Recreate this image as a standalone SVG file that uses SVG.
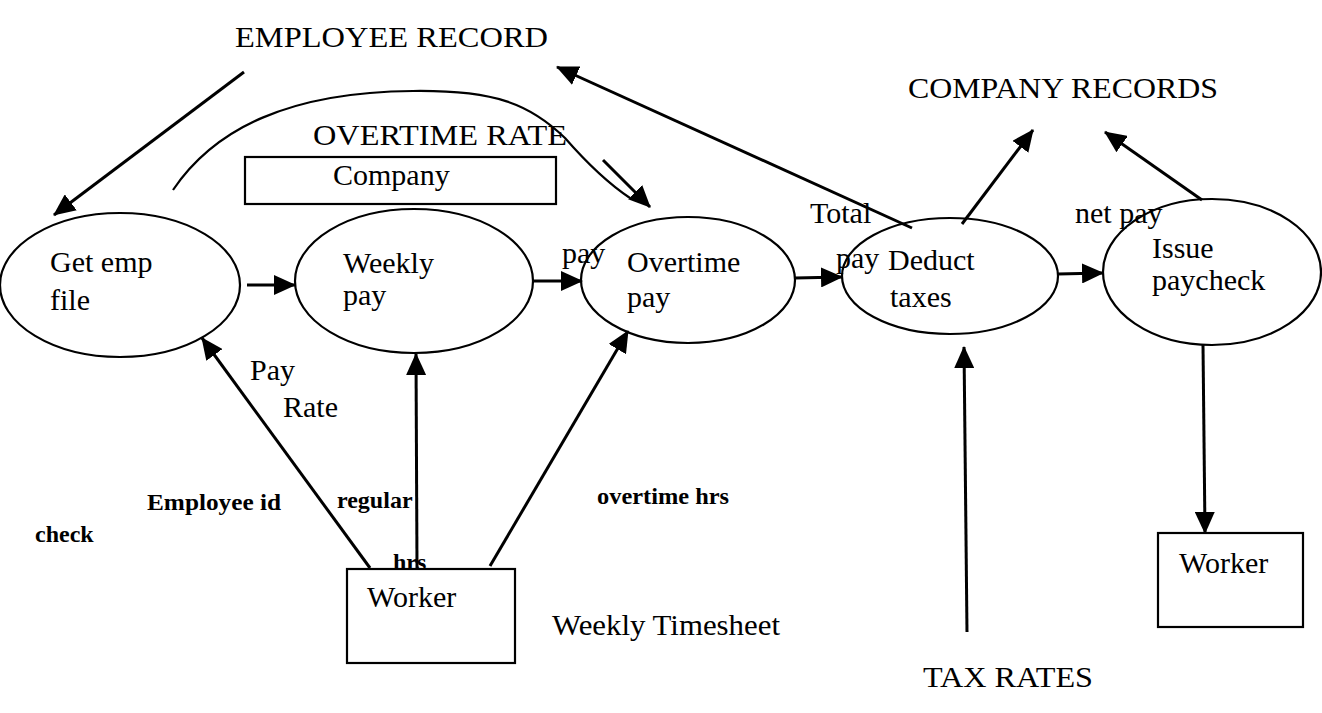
<svg xmlns="http://www.w3.org/2000/svg" width="1322" height="713" viewBox="0 0 1322 713">
<style>
.n{fill:none;stroke:#000;stroke-width:2.2}
.c{fill:none;stroke:#000;stroke-width:3}
.t{font-family:"Liberation Serif","Times New Roman",serif;font-size:30px;fill:#000}
.s{font-family:"Liberation Serif","Times New Roman",serif;font-size:24px;font-weight:bold;fill:#000}
</style>
<defs>
<marker id="ah" markerUnits="userSpaceOnUse" markerWidth="22" markerHeight="20" refX="21" refY="10" orient="auto">
<path d="M0,0 L22,10 L0,20 z" fill="#000"/>
</marker>
</defs>
<rect width="1322" height="713" fill="#fff"/>

<g id="labels">
<text class="t" x="235" y="47" textLength="313" lengthAdjust="spacingAndGlyphs">EMPLOYEE RECORD</text>
<text class="t" x="908" y="98" textLength="310" lengthAdjust="spacingAndGlyphs">COMPANY RECORDS</text>
<text class="t" x="313" y="145" textLength="254" lengthAdjust="spacingAndGlyphs">OVERTIME RATE</text>
<text class="t" x="923" y="687" textLength="170" lengthAdjust="spacingAndGlyphs">TAX RATES</text>
<text class="t" x="562" y="263">pay</text>
<text class="t" x="810" y="223">Total</text>
<text class="t" x="836" y="268">pay</text>
<text class="t" x="1075" y="223">net pay</text>
<text class="t" x="250" y="380">Pay</text>
<text class="t" x="283" y="417">Rate</text>
<text class="s" x="147" y="510" textLength="134" lengthAdjust="spacingAndGlyphs">Employee id</text>
<text class="s" x="35" y="542">check</text>
<text class="s" x="337" y="508">regular</text>
<text class="s" x="393" y="570">hrs</text>
<text class="s" x="597" y="504" textLength="132" lengthAdjust="spacingAndGlyphs">overtime hrs</text>
<text class="t" x="552" y="635" textLength="228" lengthAdjust="spacingAndGlyphs">Weekly Timesheet</text>
</g>

<g id="company-store">
<rect class="n" x="245" y="157" width="311" height="47"/>
<text class="t" x="333" y="185">Company</text>
</g>

<g id="get-emp-file">
<ellipse class="n" cx="120" cy="285" rx="120" ry="72"/>
<text class="t" x="50" y="272">Get emp</text>
<text class="t" x="50" y="310">file</text>
</g>

<g id="weekly-pay">
<ellipse class="n" cx="414" cy="281" rx="119" ry="72"/>
<text class="t" x="343" y="273">Weekly</text>
<text class="t" x="343" y="305">pay</text>
</g>

<g id="overtime-pay">
<ellipse class="n" cx="688" cy="280" rx="107" ry="63"/>
<text class="t" x="627" y="272">Overtime</text>
<text class="t" x="627" y="307">pay</text>
</g>

<g id="deduct-taxes">
<ellipse class="n" cx="950" cy="276" rx="108" ry="58"/>
<text class="t" x="888" y="270">Deduct</text>
<text class="t" x="890" y="307">taxes</text>
</g>

<g id="issue-paycheck">
<ellipse class="n" cx="1212" cy="272" rx="109" ry="73"/>
<text class="t" x="1152" y="258">Issue</text>
<text class="t" x="1152" y="290">paycheck</text>
</g>

<g id="worker-left">
<rect class="n" x="347" y="569" width="168" height="94"/>
<text class="t" x="367" y="607">Worker</text>
</g>

<g id="worker-right">
<rect class="n" x="1158" y="533" width="145" height="94"/>
<text class="t" x="1179" y="573">Worker</text>
</g>

<g id="connectors">
<line class="c" x1="244" y1="72" x2="54" y2="215" marker-end="url(#ah)"/>
<path class="n" d="M173,190 C215,128 290,92 413,91 C495,90 530,104 565,138 Q600,178 630,198"/>
<line class="c" x1="603" y1="160" x2="650" y2="207" marker-end="url(#ah)"/>
<line class="c" x1="912" y1="228" x2="557" y2="67" marker-end="url(#ah)"/>
<line class="c" x1="962" y1="224" x2="1033" y2="130" marker-end="url(#ah)"/>
<line class="c" x1="1202" y1="200" x2="1105" y2="132" marker-end="url(#ah)"/>
<line class="c" x1="247" y1="285" x2="295" y2="285" marker-end="url(#ah)"/>
<line class="c" x1="533" y1="281" x2="582" y2="281" marker-end="url(#ah)"/>
<line class="c" x1="795" y1="278" x2="842" y2="277" marker-end="url(#ah)"/>
<line class="c" x1="1058" y1="274" x2="1103" y2="273" marker-end="url(#ah)"/>
<line class="c" x1="370" y1="568" x2="202" y2="338" marker-end="url(#ah)"/>
<line class="c" x1="417" y1="568" x2="416" y2="354" marker-end="url(#ah)"/>
<line class="c" x1="490" y1="566" x2="628" y2="331" marker-end="url(#ah)"/>
<line class="c" x1="967" y1="632" x2="964" y2="347" marker-end="url(#ah)"/>
<line class="c" x1="1203" y1="345" x2="1205" y2="533" marker-end="url(#ah)"/>
</g>
</svg>
